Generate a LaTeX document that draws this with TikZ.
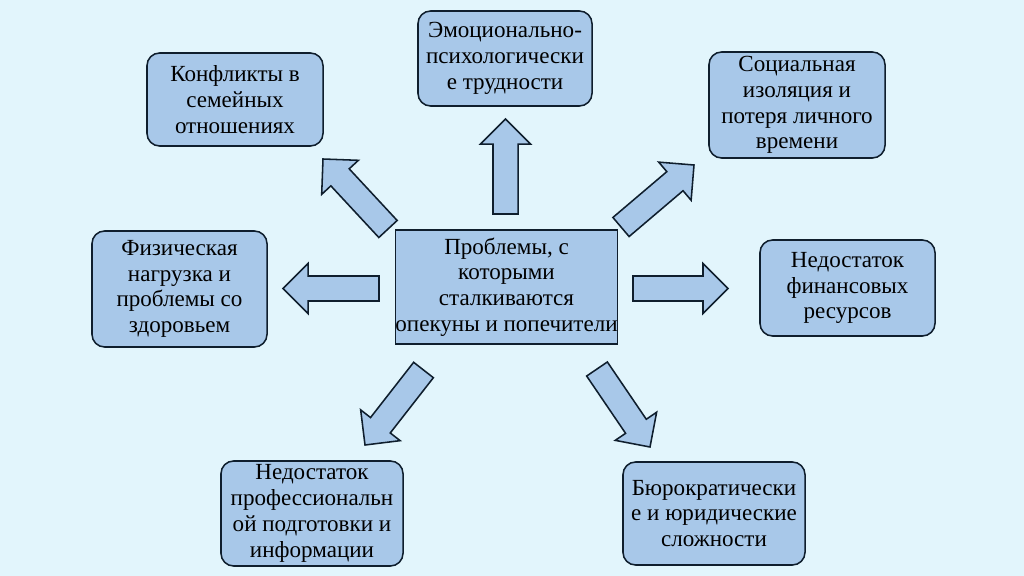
\documentclass[tikz,border=0pt]{standalone}
\usepackage{fontspec}
\setmainfont{Liberation Serif}
\usetikzlibrary{calc}
\definecolor{bgc}{HTML}{E2F5FC}
\definecolor{boxfill}{HTML}{A8C8E9}
\definecolor{boxline}{HTML}{0F1E2D}
\tikzset{
  box/.style={draw=boxline, fill=boxfill, line width=1.1pt, rounded corners=9pt,
    align=center, inner sep=0pt, font=\fontsize{16.4}{18.3}\selectfont, text=black},
  mainbox/.style={box, rounded corners=0pt},
  barrow/.style={draw=boxline, fill=boxfill, line width=1.1pt, line join=miter}
}
\newcommand\blockarrow[2]{%
  \coordinate (#1-h) at ($(#2)!17.8pt!(#1)$);
  \draw[barrow]
    ($(#1)!8.9pt!90:(#2)$) --
    ($(#1-h)!8.9pt!-90:(#1)$) --
    ($(#1-h)!17.8pt!-90:(#1)$) --
    (#2) --
    ($(#1-h)!17.8pt!90:(#1)$) --
    ($(#1-h)!8.9pt!90:(#1)$) --
    ($(#1)!8.9pt!-90:(#2)$) -- cycle;}
\begin{document}
\begin{tikzpicture}[x=0.025cm, y=-0.025cm]
\fill[bgc] (0,0) rectangle (1024,576);
\useasboundingbox (0,0) rectangle (1024,576);

\node[mainbox, minimum width=5.5cm, minimum height=2.85cm] (c) at (506.5,287)
  {Проблемы, с\\которыми\\сталкиваются\\опекуны и попечители};
\node[box, minimum width=4.35cm, minimum height=2.375cm] (t) at (505,58.5)
  {Эмоционально-\\психологически\\е трудности};
\node[box, minimum width=4.4cm, minimum height=2.325cm] (tl) at (235,99.5)
  {Конфликты в\\семейных\\отношениях};
\node[box, minimum width=4.4cm, minimum height=2.65cm] (tr) at (797,105)
  {Социальная\\изоляция и\\потеря личного\\времени};
\node[box, minimum width=4.375cm, minimum height=2.9cm] (l) at (179.5,289)
  {Физическая\\нагрузка и\\проблемы со\\здоровьем};
\node[box, minimum width=4.375cm, minimum height=2.4cm] (r) at (847.5,288)
  {Недостаток\\финансовых\\ресурсов};
\node[box, minimum width=4.55cm, minimum height=2.625cm] (bl) at (312,513.5)
  {Недостаток\\профессиональн\\ой подготовки и\\информации};
\node[box, minimum width=4.55cm, minimum height=2.575cm] (br) at (714,513.5)
  {Бюрократически\\е и юридические\\сложности};

\coordinate (a1) at (505.5,214); \coordinate (a1t) at (505.5,119);
\coordinate (a2) at (388,229);   \coordinate (a2t) at (323,159);
\coordinate (a3) at (379,288.5); \coordinate (a3t) at (283,288.5);
\coordinate (a4) at (621,227);   \coordinate (a4t) at (694,165);
\coordinate (a5) at (633,288.5); \coordinate (a5t) at (728,288.5);
\coordinate (a6) at (423.5,370); \coordinate (a6t) at (365,445);
\coordinate (a7) at (597,369);   \coordinate (a7t) at (650,447);

\blockarrow{a1}{a1t}
\blockarrow{a2}{a2t}
\blockarrow{a3}{a3t}
\blockarrow{a4}{a4t}
\blockarrow{a5}{a5t}
\blockarrow{a6}{a6t}
\blockarrow{a7}{a7t}
\end{tikzpicture}
\end{document}
